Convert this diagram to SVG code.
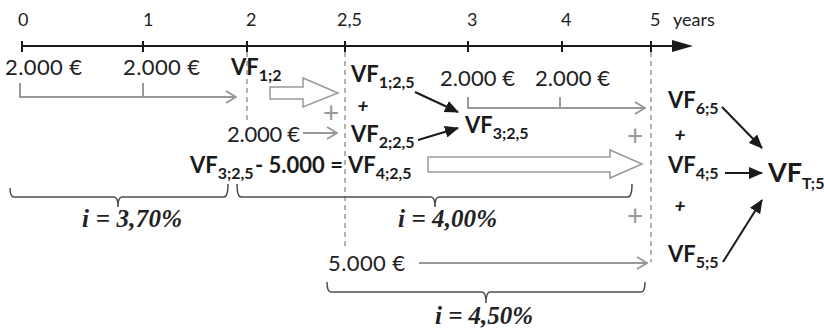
<svg xmlns="http://www.w3.org/2000/svg" width="824" height="330" viewBox="0 0 824 330">
<defs>
<marker id="open" viewBox="0 0 12 14" refX="11" refY="7" markerWidth="12" markerHeight="14" markerUnits="userSpaceOnUse" orient="auto">
<path d="M1,1 L11,7 L1,13" fill="none" stroke="#999" stroke-width="2"/>
</marker>
<marker id="solid" viewBox="0 0 14 12" refX="13" refY="6" markerWidth="14" markerHeight="12" markerUnits="userSpaceOnUse" orient="auto">
<path d="M0,0 L14,6 L0,12 Z" fill="#1a1a1a"/>
</marker>
<style>
.lbl{font-family:Lato,"Liberation Sans",sans-serif;font-size:18px;fill:#222}
.amt{font-family:Lato,"Liberation Sans",sans-serif;font-size:22px;fill:#222}
.vf{font-family:Lato,"Liberation Sans",sans-serif;font-size:22px;font-weight:bold;fill:#1a1a1a}
.sub{font-size:16px}
.vft{font-family:Lato,"Liberation Sans",sans-serif;font-size:27px;font-weight:bold;fill:#1a1a1a}
.subT{font-size:16px}
.pl{font-family:Lato,"Liberation Sans",sans-serif;font-size:19px;font-weight:900;font-style:italic;fill:#1a1a1a;text-anchor:middle}
.gp{font-family:Lato,"Liberation Sans",sans-serif;font-size:28px;fill:#999;text-anchor:middle}
.rate{font-family:"Liberation Serif",serif;font-size:25px;font-weight:bold;font-style:italic;fill:#222}
.tl{stroke:#1a1a1a;stroke-width:2;fill:none}
.dash{stroke:#999;stroke-width:1.5;stroke-dasharray:5,4;fill:none}
.gray{stroke:#999;stroke-width:2;fill:none}
.blk{stroke:#1a1a1a;stroke-width:2;fill:none;marker-end:url(#solid)}
.hollow{fill:#fff;stroke:#999;stroke-width:1.5}
.brace{stroke:#4d4d4d;stroke-width:1.5;fill:none}
</style>
</defs>

<g id="timeline">
<path class="tl" d="M22,46 H674"/>
<path d="M672,40 L693,46 L672,52 Z" fill="#1a1a1a"/>
<path class="tl" d="M22,41 V52 M143,41 V52 M247,41 V52 M345,41 V52 M468,41 V52 M562,41 V52 M651,41 V52"/>
<text class="lbl" x="18" y="26">0</text>
<text class="lbl" x="143" y="26">1</text>
<text class="lbl" x="246" y="26">2</text>
<text class="lbl" x="337" y="26">2,5</text>
<text class="lbl" x="467" y="26">3</text>
<text class="lbl" x="561" y="26">4</text>
<text class="lbl" x="650" y="26">5</text>
<text class="lbl" x="673" y="26">years</text>
</g>

<g id="guides">
<path class="dash" d="M247,52 V122"/>
<path class="dash" d="M345,52 V250"/>
<path class="dash" d="M651,52 V262"/>
</g>

<g id="connectors">
<path class="gray" d="M20,83 V97 H236" marker-end="url(#open)"/>
<path class="gray" d="M143,83 V97"/>
<path class="gray" d="M468,97 V108 H645" marker-end="url(#open)"/>
<path class="gray" d="M560,97 V108"/>
<path class="gray" d="M303,133 H337" marker-end="url(#open)"/>
<path class="gray" d="M419,263 H647" marker-end="url(#open)"/>
<polygon class="hollow" points="270,87 303,87 303,78 338,93 303,107 303,99 270,99"/>
<polygon class="hollow" points="428,157 610,157 610,150 642,164 610,178 610,172 428,172"/>
<path class="blk" d="M415,92 L458,112"/>
<path class="blk" d="M418,140 L458,128"/>
<path class="blk" d="M722,107 L762,148"/>
<path class="blk" d="M725,173 L762,173"/>
<path class="blk" d="M723,262 L762,200"/>
</g>

<g id="braces">
<path class="brace" d="M10,188 Q10,197 14,197 H114 Q118,197 118,207 Q118,197 122,197 H224 Q228,197 228,184"/>
<path class="brace" d="M237,184 Q237,197 241,197 H431 Q435,197 435,207 Q435,197 439,197 H628 Q632,197 632,184"/>
<path class="brace" d="M327,282 Q327,292 331,292 H482 Q486,292 486,303 Q486,292 490,292 H641 Q645,292 645,282"/>
</g>

<g id="amounts">
<text class="amt" x="5" y="75" textLength="77">2.000 €</text>
<text class="amt" x="123" y="75" textLength="77">2.000 €</text>
<text class="amt" x="440" y="86" textLength="75">2.000 €</text>
<text class="amt" x="535" y="86" textLength="75">2.000 €</text>
<text class="amt" x="227" y="142" textLength="73">2.000 €</text>
<text class="amt" x="328" y="271" textLength="77">5.000 €</text>
</g>

<g id="node-vf12"><text class="vf" x="231" y="75">VF<tspan class="sub" dy="6">1;2</tspan></text></g>
<g id="node-vf125"><text class="vf" x="351" y="82">VF<tspan class="sub" dy="6">1;2,5</tspan></text></g>
<g id="node-vf225"><text class="vf" x="351" y="142">VF<tspan class="sub" dy="6">2;2,5</tspan></text></g>
<g id="node-vf325"><text class="vf" x="465" y="133">VF<tspan class="sub" dy="6">3;2,5</tspan></text></g>
<g id="node-eq"><text class="vf" x="190" y="173">VF<tspan class="sub" dy="6">3;2,5</tspan><tspan x="255" dy="-6">- 5.000 =</tspan><tspan x="348">VF</tspan><tspan class="sub" dy="6">4;2,5</tspan></text></g>
<g id="node-vf65"><text class="vf" x="668" y="108">VF<tspan class="sub" dy="6">6;5</tspan></text></g>
<g id="node-vf45"><text class="vf" x="668" y="173">VF<tspan class="sub" dy="6">4;5</tspan></text></g>
<g id="node-vf55"><text class="vf" x="668" y="262">VF<tspan class="sub" dy="6">5;5</tspan></text></g>
<g id="node-vft5"><text class="vft" x="768" y="182">VF<tspan class="subT" dy="7">T;5</tspan></text></g>

<g id="plus-signs">
<text class="pl" x="363" y="112">+</text>
<text class="pl" x="680" y="141">+</text>
<text class="pl" x="680" y="212">+</text>
<text class="gp" x="331" y="123">+</text>
<text class="gp" x="635" y="146">+</text>
<text class="gp" x="635" y="226">+</text>
</g>

<g id="rates">
<text class="rate" x="82" y="227" textLength="100">i = 3,70%</text>
<text class="rate" x="398" y="227" textLength="99">i = 4,00%</text>
<text class="rate" x="435" y="324" textLength="98">i = 4,50%</text>
</g>
</svg>
